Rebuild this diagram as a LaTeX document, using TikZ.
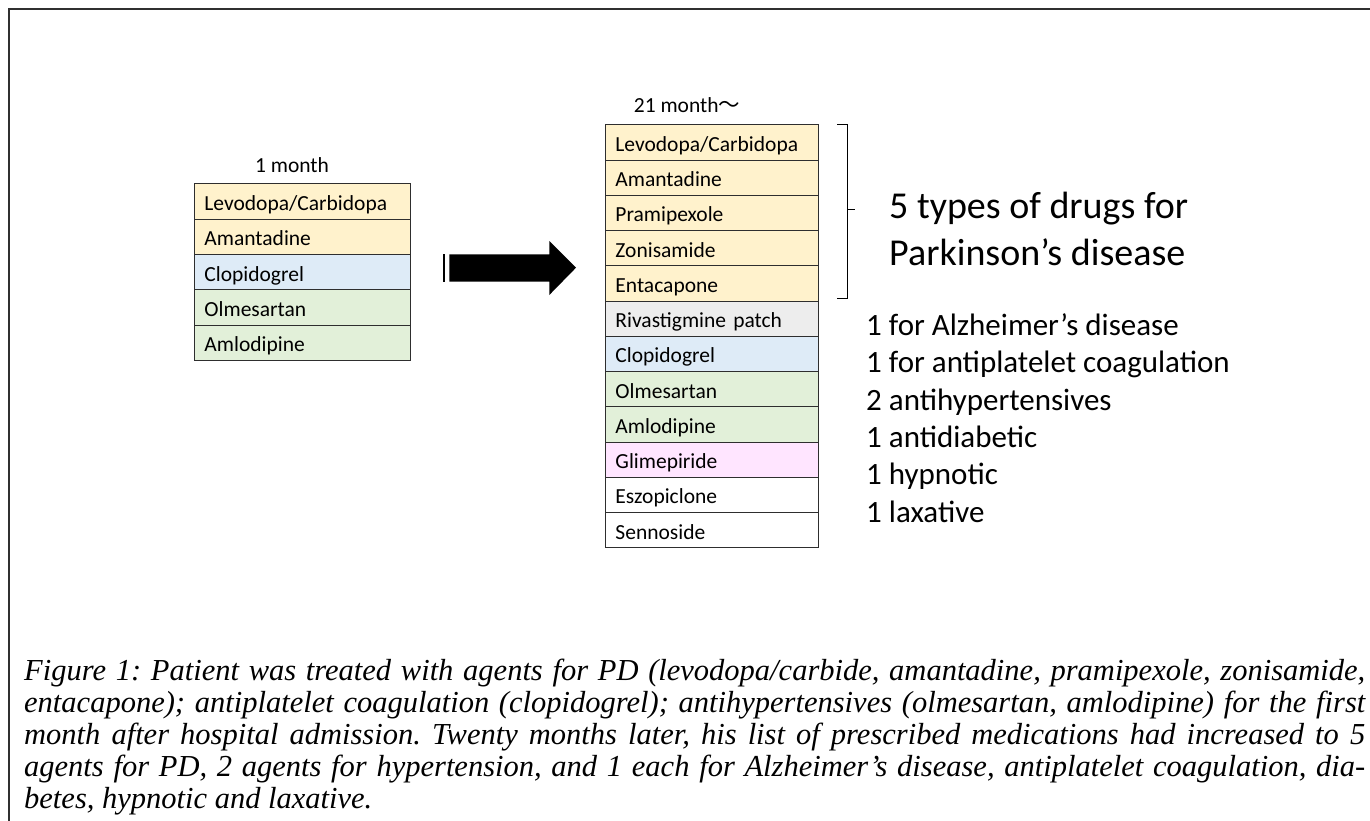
\documentclass[tikz,border=0pt]{standalone}
\usepackage{fontspec}
\setmainfont{Carlito}
\newfontfamily\capfont{Liberation Serif}
\newfontfamily\cjk{Noto Sans CJK JP}
\definecolor{pdc}{HTML}{FFF2CC}
\definecolor{bluec}{HTML}{DEEBF7}
\definecolor{greenc}{HTML}{E2F0D9}
\definecolor{grayc}{HTML}{EDEDED}
\definecolor{pinkc}{HTML}{FFE5FF}
\definecolor{cellline}{HTML}{2E2E2E}
\definecolor{framec}{HTML}{303030}
\begin{document}
\begin{tikzpicture}[x=1pt,y=-1pt,
  cell/.style={draw=cellline, line width=0.9pt, inner xsep=10pt, inner ysep=0pt,
    minimum height=35.3pt, anchor=north west, align=left,
    text height=22pt, text depth=4pt,
    font=\fontsize{21.5}{24}\selectfont},
  lcell/.style={cell, text width=196pt},
  rcell/.style={cell, text width=192.7pt},
  lab/.style={inner sep=0pt, font=\fontsize{21.5}{24}\selectfont}]
\useasboundingbox (0,0) rectangle (1370,821);
\draw[line width=1.2pt, draw=framec] (9,821) -- (9,9) -- (1370,9);

% left table
\node[lab] (t1) at (292,165) {1 month};
\node[lcell, fill=pdc]    (L1) at (194,183.3) {Levodopa/Carbidopa};
\node[lcell, fill=pdc]    (L2) at (194,218.6) {Amantadine};
\node[lcell, fill=bluec]  (L3) at (194,253.9) {Clopidogrel};
\node[lcell, fill=greenc] (L4) at (194,289.2) {Olmesartan};
\node[lcell, fill=greenc] (L5) at (194,324.5) {Amlodipine};

% arrow
\draw[line width=1.6pt] (444,254.3) -- (444,281.7);
\fill (449.3,254.3) -- (549.3,254.3) -- (549.3,241) -- (576,267.7) -- (549.3,295)
  -- (549.3,281.7) -- (449.3,281.7) -- cycle;

% right table
\node[lab] (t2) at (687,105) {21 month{\cjk ～}};
\node[rcell, fill=pdc]    (R1)  at (605,124.3) {Levodopa/Carbidopa};
\node[rcell, fill=pdc]    (R2)  at (605,159.55) {Amantadine};
\node[rcell, fill=pdc]    (R3)  at (605,194.8) {Pramipexole};
\node[rcell, fill=pdc]    (R4)  at (605,230.05) {Zonisamide};
\node[rcell, fill=pdc]    (R5)  at (605,265.3) {Entacapone};
\node[rcell, fill=grayc]  (R6)  at (605,300.55) {Rivastigmine patch};
\node[rcell, fill=bluec]  (R7)  at (605,335.8) {Clopidogrel};
\node[rcell, fill=greenc] (R8)  at (605,371.05) {Olmesartan};
\node[rcell, fill=greenc] (R9)  at (605,406.3) {Amlodipine};
\node[rcell, fill=pinkc]  (R10) at (605,441.55) {Glimepiride};
\node[rcell, fill=white]  (R11) at (605,476.8) {Eszopiclone};
\node[rcell, fill=white]  (R12) at (605,512.05) {Sennoside};

% bracket
\draw[line width=1pt] (837,124.3) -- (847.7,124.3) -- (847.7,298.3) -- (837,298.3);
\draw[line width=1pt] (847.7,210) -- (855,210);

\node[anchor=west, align=left, inner sep=0pt, font=\fontsize{38}{47}\selectfont] (pd) at (889,229)
  {5 types of drugs for\\Parkinson’s disease};

\node[anchor=west, align=left, inner sep=0pt, font=\fontsize{31}{37.3}\selectfont] (lg) at (866,418)
  {1 for Alzheimer’s disease\\1 for antiplatelet coagulation\\2 antihypertensives\\1 antidiabetic\\1 hypnotic\\1 laxative};

% caption
\node[anchor=north west, inner sep=0pt, text width=1341pt, align=justify,
  font=\capfont\itshape\fontsize{30.5}{32}\selectfont] (cap) at (24,659)
  {\frenchspacing\hyphenpenalty=10000 Figure 1: Patient was treated with agents for PD (levodopa/carbide, amantadine, pramipexole, zonisamide,\linebreak
  entacapone); antiplatelet coagulation (clopidogrel); antihypertensives (olmesartan, amlodipine) for the first\linebreak
  month after hospital admission. Twenty months later, his list of prescribed medications had increased to 5\linebreak
  agents for PD, 2 agents for hypertension, and 1 each for Alzheimer’s disease, antiplatelet coagulation, dia-\linebreak
  betes, hypnotic and laxative.};
\end{tikzpicture}
\end{document}
